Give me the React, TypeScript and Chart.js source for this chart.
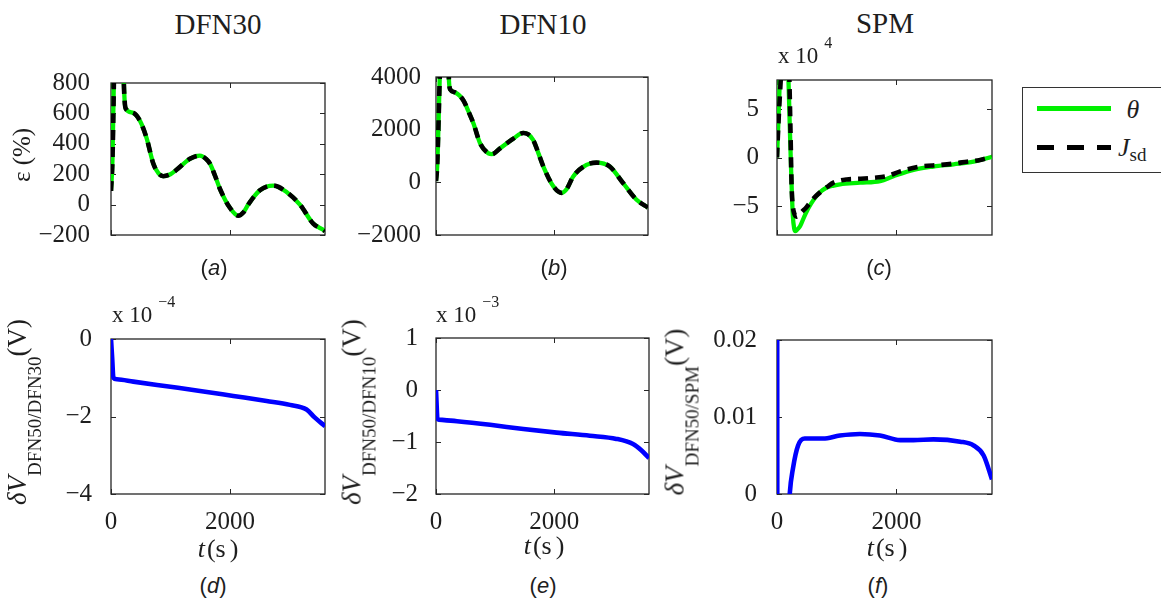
import React, { useEffect, useRef } from "react";
import { Chart, registerables } from "chart.js";
Chart.register(...registerables);

// ---------- data ----------
const xTickValues = [0, 2000];

// (a) DFN30 : epsilon (%)
const timeA = [0, 25, 50, 100, 160, 210, 230, 250, 375, 487, 599, 711, 800, 879, 1000, 1103, 1327, 1495, 1600, 1664, 1750, 1832, 2000, 2140, 2230, 2308, 2505, 2729, 2953, 3178, 3402, 3570, 3600];
const thetaA = [90, 300, 850, 2500, 2500, 900, 680, 630, 603, 551, 437, 270, 205, 187, 200, 229, 301, 322, 300, 270, 190, 104, -21, -73, -50, 0, 94, 125, 83, 0, -125, -166, -175];
const jsdA = [90, 300, 850, 2500, 2500, 900, 680, 630, 603, 551, 437, 270, 205, 187, 200, 229, 301, 322, 300, 270, 190, 104, -21, -73, -50, 0, 94, 125, 83, 0, -125, -166, -175];
const yTicksA = [-200, 0, 200, 400, 600, 800];

// (b) DFN10 : epsilon (%)
const timeB = [0, 20, 40, 65, 120, 180, 215, 225, 240, 327, 468, 550, 638, 750, 891, 950, 1089, 1313, 1484, 1560, 1653, 1740, 1823, 1992, 2133, 2220, 2330, 2555, 2725, 2950, 3176, 3401, 3600];
const thetaB = [50, 600, 2000, 4100, 7000, 6000, 4100, 3700, 3530, 3412, 3100, 2700, 2225, 1475, 1100, 1070, 1290, 1660, 1875, 1830, 1600, 1100, 600, -150, -400, -250, 225, 660, 750, 600, -25, -650, -960];
const jsdB = [50, 600, 2000, 4100, 7000, 6000, 4100, 3700, 3530, 3412, 3100, 2700, 2225, 1475, 1100, 1070, 1290, 1660, 1875, 1830, 1600, 1100, 600, -150, -400, -250, 225, 660, 750, 600, -25, -650, -960];
const yTicksB = [-2000, 0, 2000, 4000];

// (c) SPM : epsilon (%) in units of 10^4
const timeCTheta = [0, 25, 50, 110, 170, 190, 215, 240, 265, 290, 305, 330, 386, 450, 520, 609, 700, 833, 950, 1056, 1392, 1727, 1951, 2286, 2621, 2957, 3292, 3600];
const thetaC = [0, 4, 8.5, 14, 11, 8.5, 3, -2, -6, -7.4, -7.6, -7.5, -7.1, -6.2, -5.3, -4.4, -3.7, -3.1, -2.9, -2.77, -2.6, -2.43, -1.93, -1.27, -0.93, -0.7, -0.43, 0.07];
const timeCJsd = [0, 20, 67, 120, 180, 205, 225, 245, 265, 290, 330, 358, 420, 497, 600, 721, 850, 945, 1168, 1400, 1616, 1839, 2063, 2398, 2733, 3000, 3180, 3400, 3600];
const jsdC = [0, 3, 8.5, 14, 12, 8.5, 3, -3, -5, -5.8, -6.1, -6.0, -5.6, -5.1, -4.3, -3.6, -3.0, -2.6, -2.27, -2.2, -2.1, -1.93, -1.43, -0.93, -0.77, -0.6, -0.43, -0.25, 0.07];
const yTicksC = [-5, 0, 5];

// (d) dV DFN50/DFN30 in units of 10^-4 V
const timeD = [0, 20, 40, 100, 376, 936, 1497, 2058, 2618, 3011, 3290, 3430, 3600];
const dvD = [0, -0.5, -1.0, -1.04, -1.1, -1.22, -1.34, -1.47, -1.6, -1.7, -1.82, -2.03, -2.25];
const yTicksD = [-4, -2, 0];

// (e) dV DFN50/DFN10 in units of 10^-3 V
const timeE = [0, 25, 50, 354, 915, 1477, 2039, 2600, 3049, 3330, 3470, 3600];
const dvE = [0, -0.55, -0.57, -0.6, -0.67, -0.75, -0.82, -0.88, -0.94, -1.04, -1.16, -1.31];
const yTicksE = [-2, -1, 0, 1];

// (f) dV DFN50/SPM in V
const timeF = [0, 8, 150, 213, 269, 353, 465, 605, 773, 1052, 1388, 1724, 2060, 2284, 2620, 3068, 3292, 3460, 3600];
const dvF = [0.08, -0.05, -0.01, 0, 0.0034, 0.0063, 0.0072, 0.0072, 0.0072, 0.0076, 0.0078, 0.0076, 0.007, 0.007, 0.0071, 0.0068, 0.0063, 0.005, 0.0019];
const yTicksF = [0, 0.01, 0.02];

// ---------- styling ----------
const SERIF = "'Liberation Serif', 'Times New Roman', serif";
const SANS = "'Liberation Sans', Arial, sans-serif";
const TXT = "#1e1e1e";
const GREEN = "#00f000";
const BLUE = "#0000ff";
const TICK_SIZE = 25;
const ML = 80, MT = 20, MR = 20, MB = 50;

Chart.defaults.font.family = SERIF;

const pts = (xs: number[], ys: number[]) => xs.map((x, i) => ({ x, y: ys[i] }));
const fmt = (v: number) => (v < 0 ? "\u2212" + String(Math.abs(v)) : String(v));

const greenLine = (xs: number[], ys: number[]) => ({
  data: pts(xs, ys), borderColor: GREEN, borderWidth: 4.3, order: 2,
  cubicInterpolationMode: "monotone", pointRadius: 0, fill: false,
});
const blackDash = (xs: number[], ys: number[]) => ({
  data: pts(xs, ys), borderColor: "#000", borderWidth: 4.6, borderDash: [10, 7], borderCapStyle: "butt", order: 1,
  cubicInterpolationMode: "monotone", pointRadius: 0, fill: false,
});
const blueLine = (xs: number[], ys: number[]) => ({
  data: pts(xs, ys), borderColor: BLUE, borderWidth: 4.6, order: 1,
  cubicInterpolationMode: "monotone", pointRadius: 0, fill: false,
});

const framePlugin = {
  id: "matlabFrame",
  beforeDatasetsDraw(chart: any) {
    const { ctx, chartArea: a, scales } = chart;
    ctx.save();
    ctx.strokeStyle = "#262626";
    ctx.lineWidth = 1.3;
    ctx.strokeRect(a.left, a.top, a.right - a.left, a.bottom - a.top);
    ctx.lineWidth = 1;
    const L = 5;
    ctx.beginPath();
    scales.x.ticks.forEach((t: any) => {
      const px = Math.round(scales.x.getPixelForValue(t.value)) + 0.5;
      ctx.moveTo(px, a.bottom); ctx.lineTo(px, a.bottom - L);
      ctx.moveTo(px, a.top); ctx.lineTo(px, a.top + L);
    });
    scales.y.ticks.forEach((t: any) => {
      const py = Math.round(scales.y.getPixelForValue(t.value)) + 0.5;
      ctx.moveTo(a.left, py); ctx.lineTo(a.left + L, py);
      ctx.moveTo(a.right, py); ctx.lineTo(a.right - L, py);
    });
    ctx.stroke();
    ctx.restore();
  },
};

type PanelProps = {
  rect: [number, number, number, number];
  datasets: any[];
  yMin: number; yMax: number; yTicks: number[];
  yPad: number; showX: boolean;
};

function Panel({ rect, datasets, yMin, yMax, yTicks, yPad, showX }: PanelProps) {
  const ref = useRef<HTMLCanvasElement>(null);
  const [x0, y0, x1, y1] = rect;
  const w = x1 - x0 + ML + MR;
  const h = y1 - y0 + MT + MB;
  useEffect(() => {
    const chart = new Chart(ref.current as HTMLCanvasElement, {
      type: "line",
      data: { datasets },
      options: {
        responsive: false,
        animation: false,
        devicePixelRatio: 1,
        layout: { padding: { left: 0, top: MT, right: MR, bottom: 0 } },
        plugins: { legend: { display: false }, tooltip: { enabled: false } },
        elements: { point: { radius: 0 } },
        scales: {
          x: {
            type: "linear", min: 0, max: 3600,
            afterBuildTicks: (s: any) => { s.ticks = xTickValues.map((v) => ({ value: v })); },
            afterFit: (s: any) => { s.height = MB; },
            grid: { display: false }, border: { display: false },
            ticks: {
              display: showX, autoSkip: false, maxRotation: 0, padding: 5, color: TXT,
              font: { family: SERIF, size: TICK_SIZE }, callback: (v: any) => fmt(Number(v)),
            },
          },
          y: {
            type: "linear", min: yMin, max: yMax,
            afterBuildTicks: (s: any) => { s.ticks = yTicks.map((v) => ({ value: v })); },
            afterFit: (s: any) => { s.width = ML; },
            grid: { display: false }, border: { display: false },
            ticks: {
              autoSkip: false, padding: yPad, color: TXT,
              font: { family: SERIF, size: TICK_SIZE }, callback: (v: any) => fmt(Number(v)),
            },
          },
        },
      } as any,
      plugins: [framePlugin],
    });
    let alive = true;
    const redraw = () => { if (alive) chart.update(); };
    const fonts: any = (document as any).fonts;
    if (fonts) {
      Promise.all([
        fonts.load(`${TICK_SIZE}px "Liberation Serif"`),
        fonts.load(`italic ${TICK_SIZE}px "Liberation Serif"`),
      ]).then(redraw, redraw);
      fonts.ready.then(redraw);
    }
    return () => { alive = false; chart.destroy(); };
  }, []);
  return (
    <canvas
      ref={ref}
      width={w}
      height={h}
      style={{ position: "absolute", left: x0 - ML, top: y0 - MT, width: w, height: h }}
    />
  );
}

function T({ x, y, size = 24, family = SERIF, rotate = false, children, style }: any) {
  return (
    <div
      style={{
        position: "absolute", left: x, top: y, whiteSpace: "nowrap", lineHeight: 1,
        fontFamily: family, fontSize: size, color: TXT,
        transform: `translate(-50%, -50%)${rotate ? " rotate(-90deg)" : ""}`,
        zIndex: 2, ...style,
      }}
    >
      {children}
    </div>
  );
}

function Mult({ left, baseline, exp }: any) {
  return (
    <div style={{ position: "absolute", left, top: baseline - 19, fontFamily: SERIF, fontSize: 23, lineHeight: 1, color: TXT, whiteSpace: "nowrap", zIndex: 2 }}>
      x 10<span style={{ fontSize: 16, position: "relative", top: -15, marginLeft: 6 }}>{exp}</span>
    </div>
  );
}

function DVLabel({ x, sub }: any) {
  return (
    <T x={x} y={412} rotate size={27}>
      <span style={{ fontStyle: "italic" }}>δV</span>
      <span style={{ fontSize: 19, position: "relative", top: 15 }}>{sub}</span>
      <span>(V)</span>
    </T>
  );
}

function TS({ x, y }: any) {
  return (
    <T x={x} y={y} size={26}>
      <i>t</i>
      <span style={{ marginLeft: 2 }}>(s</span>
      <span style={{ marginLeft: 4 }}>)</span>
    </T>
  );
}

export default function App() {
  return (
    <div style={{ position: "absolute", left: 0, top: 0, width: 1161, height: 601, overflow: "hidden", background: "#fff" }}>
      <Panel rect={[111, 75, 325, 235]} datasets={[greenLine(timeA, thetaA), blackDash(timeA, jsdA)]} yMin={-200} yMax={800} yTicks={yTicksA} yPad={13} showX={false} />
      <Panel rect={[436, 75, 648, 235]} datasets={[greenLine(timeB, thetaB), blackDash(timeB, jsdB)]} yMin={-2000} yMax={4000} yTicks={yTicksB} yPad={7} showX={false} />
      <Panel rect={[777, 75, 992, 235]} datasets={[greenLine(timeCTheta, thetaC), blackDash(timeCJsd, jsdC)]} yMin={-8} yMax={8} yTicks={yTicksC} yPad={10} showX={false} />
      <Panel rect={[111, 333, 325, 494]} datasets={[blueLine(timeD, dvD)]} yMin={-4} yMax={0} yTicks={yTicksD} yPad={11} showX={true} />
      <Panel rect={[436, 333, 649, 494]} datasets={[blueLine(timeE, dvE)]} yMin={-2} yMax={1} yTicks={yTicksE} yPad={10} showX={true} />
      <Panel rect={[777, 333, 992, 494]} datasets={[blueLine(timeF, dvF)]} yMin={0} yMax={0.02} yTicks={yTicksF} yPad={12} showX={true} />

      {/* titles */}
      <T x={218} y={24} size={29}>DFN30</T>
      <T x={543} y={24} size={29}>DFN10</T>
      <T x={885} y={23} size={29}>SPM</T>

      {/* sub-figure labels */}
      <T x={214} y={268} size={22} family={SANS}>(<i>a</i>)</T>
      <T x={554} y={268} size={22} family={SANS}>(<i>b</i>)</T>
      <T x={879} y={268} size={22} family={SANS}>(<i>c</i>)</T>
      <T x={213} y={586} size={22} family={SANS}>(<i>d</i>)</T>
      <T x={543} y={586} size={22} family={SANS}>(<i>e</i>)</T>
      <T x={878} y={586} size={22} family={SANS}>(<i>f</i>)</T>

      {/* axis labels */}
      <T x={21} y={155} size={25} rotate>ε (%)</T>
      <DVLabel x={17} sub="DFN50/DFN30" />
      <DVLabel x={352} sub="DFN50/DFN10" />
      <DVLabel x={675} sub="DFN50/SPM" />
      <TS x={218} y={549} />
      <TS x={544} y={546} />
      <TS x={887} y={548} />

      {/* exponent multipliers */}
      <Mult left={778} baseline={63} exp="4" />
      <Mult left={112} baseline={322} exp={"\u22124"} />
      <Mult left={436} baseline={322} exp={"\u22123"} />

      {/* legend */}
      <div style={{ position: "absolute", left: 1022, top: 87, width: 200, height: 86, border: "1.5px solid #333", boxSizing: "border-box", background: "#fff", zIndex: 1 }} />
      <div style={{ position: "absolute", left: 1037, top: 106, width: 74, height: 5, background: GREEN, zIndex: 2 }} />
      <div style={{ position: "absolute", left: 1037, top: 145, width: 74, height: 5, zIndex: 2, background: "repeating-linear-gradient(90deg, #000 0px, #000 17px, transparent 17px, transparent 30px)" }} />
      <T x={1133} y={110} size={26}><i>θ</i></T>
      <div style={{ position: "absolute", left: 1118, top: 135, fontFamily: SERIF, fontSize: 26, lineHeight: 1, color: TXT, whiteSpace: "nowrap", zIndex: 2 }}>
        <i>J</i><span style={{ fontSize: 19, position: "relative", top: 5 }}>sd</span>
      </div>
    </div>
  );
}
